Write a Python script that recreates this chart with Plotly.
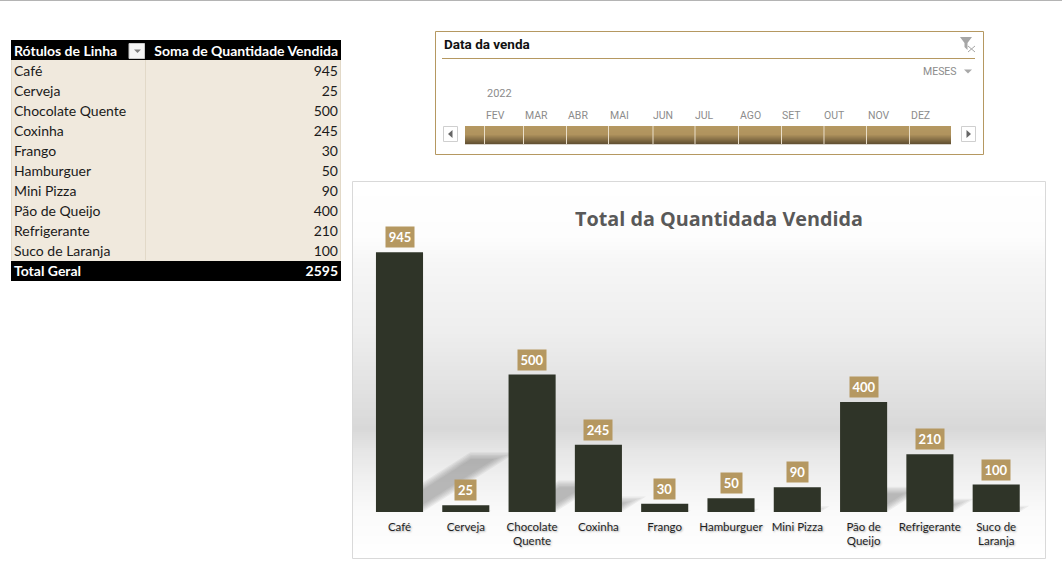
import plotly.graph_objects as go

W, H = 1062, 566

# Sales data
produtos = ["Café", "Cerveja", "Chocolate Quente", "Coxinha", "Frango", "Hamburguer",
            "Mini Pizza", "Pão de Queijo", "Refrigerante", "Suco de Laranja"]
quantidades = [945, 25, 500, 245, 30, 50, 90, 400, 210, 100]
rotulos_eixo = ["Café", "Cerveja", "Chocolate<br>Quente", "Coxinha", "Frango", "Hamburguer",
                "Mini Pizza", "Pão de<br>Queijo", "Refrigerante", "Suco de<br>Laranja"]
meses = ["FEV", "MAR", "ABR", "MAI", "JUN", "JUL", "AGO", "SET", "OUT", "NOV", "DEZ"]

TAN = "#B59861"
BAR = "#2F3428"
FONT = "Lato"
NBSP = "\u00a0"
CLEAR = "rgba(0,0,0,0)"


def px(x):
    return x / W


def py(y):
    return 1 - y / H


def rect(x0, y0, x1, y1, fill=None, line=None, lw=1, layer="above"):
    return dict(type="rect", xref="paper", yref="paper", x0=px(x0), x1=px(x1), y0=py(y0), y1=py(y1),
                fillcolor=fill or CLEAR, line=dict(color=line or CLEAR, width=lw if line else 0),
                layer=layer)


def poly(points, fill=None, line=None, lw=1):
    d = "M" + " L".join(f"{px(a):.5f},{py(b):.5f}" for a, b in points)
    if fill:
        d += " Z"
    return dict(type="path", xref="paper", yref="paper", path=d, fillcolor=fill or CLEAR,
                line=dict(color=line or CLEAR, width=lw if line else 0), layer="above")


def text(x, y, s, size=11, color="#8c8c8c", family="Roboto", xanchor="center", **kw):
    return dict(xref="paper", yref="paper", x=px(x), y=py(y), text=s, showarrow=False, xanchor=xanchor,
                yanchor="middle", font=dict(size=size, color=color, family=family), borderpad=0, **kw)


def ramp(stops, t):
    for (t0, v0), (t1, v1) in zip(stops, stops[1:]):
        if t <= t1:
            return v0 + (v1 - v0) * (t - t0) / (t1 - t0)
    return stops[-1][1]


shapes, notes = [], []

# Thin rule along the top of the sheet
shapes.append(rect(0, 0, W, 1, fill="#b4b4b4", layer="below"))

# Chart panel: vertical grey sweep behind the columns
sweep = [(182, 255), (235, 253), (262, 246), (330, 238), (400, 223), (428, 216), (450, 230),
         (480, 241), (510, 250), (558, 255)]
for y in range(182, 558, 2):
    g = round(ramp(sweep, y))
    shapes.append(rect(353, y, 1045, y + 2.5, fill=f"rgb({g},{g},{g})", layer="below"))
shapes.append(rect(352.5, 181.5, 1045.5, 558.5, line="#d9d9d9", lw=1, layer="below"))

# Timeline filter panel
shapes.append(rect(435.5, 31.5, 983.5, 154.5, fill="white", line=TAN))
shapes.append(poly([(442, 58.5), (975, 58.5)], line=TAN))
notes.append(text(443, 44, "<b>Data da venda</b>", size=13.5, color="#111111", xanchor="left"))
notes.append(text(958, 71, "MESES", size=10.5, xanchor="right"))
notes.append(text(486, 94, "2022", size=11, xanchor="left"))
shapes.append(poly([(964, 69.5), (972, 69.5), (968, 73.5)], fill="#a8a8a8"))
shapes.append(poly([(960, 37), (972, 37), (967.5, 43), (967.5, 50), (964.5, 47), (964.5, 43)], fill="#a6a6a6"))
shapes.append(poly([(968, 46), (975, 52)], line="#a6a6a6"))
shapes.append(poly([(975, 46), (968, 52)], line="#a6a6a6"))

mes_x = [495, 536, 578, 619, 663, 704, 750, 791, 834, 879, 920]
divisorias = [484.5, 523.5, 566.5, 608.5, 653, 695, 738.5, 781.5, 824, 866.5, 909.5]
for m, x in zip(meses, mes_x):
    notes.append(text(x, 115, m, size=10.5))
faixa = [(126, (181, 152, 97)), (134, (176, 147, 94)), (144, (92, 75, 46))]
for y in range(126, 144):
    cor = [round(ramp([(a, c[i]) for a, c in faixa], y)) for i in range(3)]
    shapes.append(rect(465, y, 951, y + 1.3, fill=f"rgb({cor[0]},{cor[1]},{cor[2]})"))
for x in divisorias:
    shapes.append(poly([(x, 126), (x, 144)], line="#eadfca"))
shapes.append(rect(443.5, 126.5, 457.5, 141.5, fill="white", line="#cfcfcf"))
shapes.append(rect(961.5, 126.5, 975.5, 141.5, fill="white", line="#cfcfcf"))
shapes.append(poly([(452.5, 130), (452.5, 138), (448, 134)], fill="#666666"))
shapes.append(poly([(966.5, 130), (966.5, 138), (971, 134)], fill="#666666"))

# Pivot table bands sit behind the transparent table cells so descenders are not cut off by the next row
shapes.append(rect(11, 40, 341, 60, fill="#000000", layer="below"))
shapes.append(rect(11, 60, 341, 261, fill="#F0E9DD", layer="below"))
shapes.append(rect(11, 261, 341, 281, fill="#000000", layer="below"))

# Cell rules of the pivot table body
for x in (11.5, 145.5, 340.5):
    shapes.append(poly([(x, 60), (x, 260)], line="#e2d9c8"))

# Pivot table sort button, sitting on the header row
shapes.append(rect(129, 43.5, 144.5, 58.5, fill="#f4f4f4", line="#c8c8c8"))
shapes.append(poly([(134, 49.5), (141, 49.5), (137.5, 53)], fill="#7f7f7f"))

# Chart title
notes.append(text(719, 218, "<b>Total da Quantidada Vendida</b>", size=19.8, color="#595959", family="Open Sans"))

fig = go.Figure()

# Pivot table; text stays free of markup so the declared row height holds.
# Column widths are shared with the total row, which is its own header-only table.
total = sum(quantidades)
cabecalho = ["Rótulos de Linha", "Soma de Quantidade Vendida"]
nowrap = lambda s: s.replace(" ", NBSP)
fonte_negrito = dict(color="white", size=14, family=FONT, weight=700)
fig.add_trace(go.Table(
    domain=dict(x=[px(6), px(346)], y=[py(258), py(37)]),
    columnwidth=[139, 201],
    header=dict(values=[nowrap(c) for c in cabecalho],
                fill_color=CLEAR, line_color=CLEAR, height=20,
                font=fonte_negrito, align=["left", "right"]),
    cells=dict(values=[[nowrap(p) for p in produtos], quantidades],
               fill_color=CLEAR, line_color=CLEAR, height=20,
               font=dict(color="#1a1a1a", size=14, family=FONT), align=["left", "right"]),
))
fig.add_trace(go.Table(
    domain=dict(x=[px(6), px(346)], y=[py(278), py(257.5)]),
    columnwidth=[139, 201],
    header=dict(values=[nowrap("Total Geral"), str(total)],
                fill_color=CLEAR, line_color=CLEAR, height=20,
                font=fonte_negrito, align=["left", "right"]),
))

# Slanted floor shadows cast by each column, softened with stacked translucent layers
for i, v in enumerate(quantidades):
    altura = 0.23 * v
    desvio = 0.0015 * v
    for k in range(6):
        m = k * 0.035
        topo = max(altura - k * 5, 0)
        fig.add_trace(go.Scatter(
            x=[i - 0.35 + m, i + 0.35 - m, i + 0.35 - m + desvio * topo / altura, i - 0.35 + m + desvio * topo / altura],
            y=[0, 0, topo, topo], mode="lines", fill="toself", line=dict(width=0),
            fillcolor="rgba(110,110,110,0.085)", hoverinfo="skip", showlegend=False,
            xaxis="x", yaxis="y"))

# Columns
fig.add_trace(go.Bar(x=produtos, y=quantidades, width=0.71, marker=dict(color=BAR, line=dict(width=0)),
                     showlegend=False, xaxis="x2", yaxis="y"))

# Value tags above the columns
for p, v in zip(produtos, quantidades):
    s = str(v)
    notes.append(dict(x=p, y=v, xref="x2", yref="y", text=f"<b>{s}</b>", showarrow=False, xanchor="center",
                      yanchor="bottom", yshift=4, width=28 if len(s) == 3 else 21, height=20, align="center",
                      valign="middle", bgcolor=TAN, borderpad=0, font=dict(color="white", size=13, family=FONT)))

fig.update_layout(
    width=W, height=H, autosize=False, margin=dict(l=0, r=0, t=0, b=0),
    paper_bgcolor="rgba(255,255,255,1)", plot_bgcolor=CLEAR,
    shapes=shapes, annotations=notes, bargap=0.29,
    xaxis=dict(domain=[px(366.35), px(1029.35)], range=[-0.5, 9.5], visible=False),
    xaxis2=dict(domain=[px(366.35), px(1029.35)], anchor="y", overlaying="x", type="category",
                categoryorder="array", categoryarray=produtos, tickmode="array",
                tickvals=produtos, ticktext=rotulos_eixo, side="bottom", showgrid=False, showline=False,
                ticks="", ticklabelstandoff=6,
                tickfont=dict(size=11.5, color="#1f1f1f", family=FONT, shadow="1px 1px 2px rgba(0,0,0,0.3)")),
    yaxis=dict(domain=[py(512), py(237)], range=[0, 1000], visible=False),
)

fig.write_html("out.html", config=dict(displayModeBar=False))
